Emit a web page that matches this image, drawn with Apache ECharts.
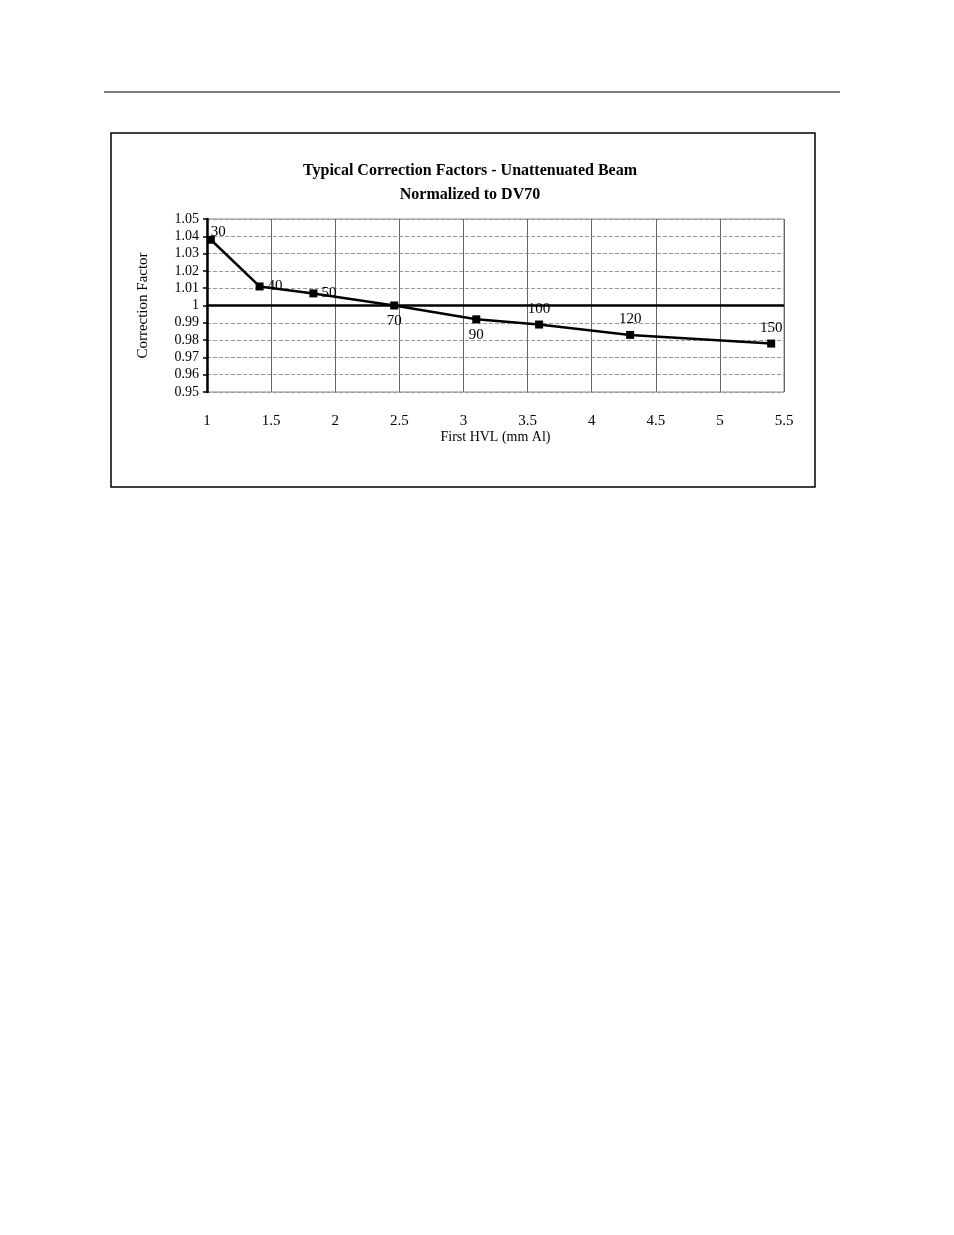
<!DOCTYPE html>
<html><head><meta charset="utf-8">
<script src="https://cdn.jsdelivr.net/npm/echarts@6/dist/echarts.min.js"></script>
<style>html,body{margin:0;background:#fff}#c{width:954px;height:1235px}</style>
</head><body><div id="c"></div>
<script>
// beam kV labels, first HVL (mm Al), correction factor
const kv = ['30', '40', '50', '70', '90', '100', '120', '150'];
const hvl = [1.03, 1.41, 1.83, 2.46, 3.10, 3.59, 4.30, 5.40];
const factor = [1.038, 1.011, 1.007, 1.000, 0.992, 0.989, 0.983, 0.978];
const labelPos = ['insideBottomLeft', 'right', 'right', 'bottom', 'bottom', 'top', 'top', 'top'];

const chart = echarts.init(document.getElementById('c'));
const font = 'Liberation Serif';
chart.setOption({
    animation: false,
    textStyle: { fontFamily: font },
    title: {
        text: 'Typical Correction Factors - Unattenuated Beam\nNormalized to DV70',
        left: 465, top: 154, textAlign: 'center',
        textStyle: { fontFamily: font, fontSize: 16, fontWeight: 'bold', color: '#000', lineHeight: 24 }
    },
    grid: { left: 207, top: 219, width: 577, height: 173, show: true, borderColor: '#888', borderWidth: 1 },
    xAxis: {
        type: 'value', min: 1, max: 5.5, interval: 0.5,
        name: 'First HVL (mm Al)', nameLocation: 'middle', nameGap: 37,
        nameTextStyle: { fontSize: 14, color: '#000' },
        axisLine: { show: false }, axisTick: { show: false },
        axisLabel: { fontSize: 15, color: '#000', margin: 22 },
        splitLine: { lineStyle: { color: '#666', width: 1 } }
    },
    yAxis: {
        type: 'value', min: 0.95, max: 1.05, interval: 0.01,
        name: 'Correction Factor', nameLocation: 'middle', nameGap: 56,
        nameTextStyle: { fontSize: 15, color: '#000' },
        axisLine: { show: true, lineStyle: { color: '#000', width: 2.5 } },
        axisTick: { show: true, inside: false, length: 4, lineStyle: { color: '#000', width: 1.5 } },
        axisLabel: { fontSize: 14, color: '#000', margin: 8, formatter: v => String(+v.toFixed(2)) },
        splitLine: { lineStyle: { color: '#999', width: 1, type: 'dashed' } }
    },
    series: [{
        type: 'line',
        data: hvl.map((x, i) => ({ value: [x, factor[i]], label: { position: labelPos[i] } })),
        symbol: 'rect', symbolSize: 8,
        lineStyle: { color: '#000', width: 2.5 },
        itemStyle: { color: '#000' },
        label: { show: true, fontSize: 15, color: '#000', formatter: p => kv[p.dataIndex], distance: 4 },
        markLine: {
            silent: true, symbol: 'none', label: { show: false },
            lineStyle: { color: '#000', width: 2.5, type: 'solid' },
            data: [{ yAxis: 1 }]
        }
    }],
    graphic: [
        { type: 'line', shape: { x1: 104, y1: 92, x2: 840, y2: 92 }, style: { stroke: '#000', lineWidth: 1 } },
        { type: 'rect', shape: { x: 111, y: 133, width: 704, height: 354 }, style: { fill: 'none', stroke: '#000', lineWidth: 1.5 } }
    ]
});
</script></body></html>
